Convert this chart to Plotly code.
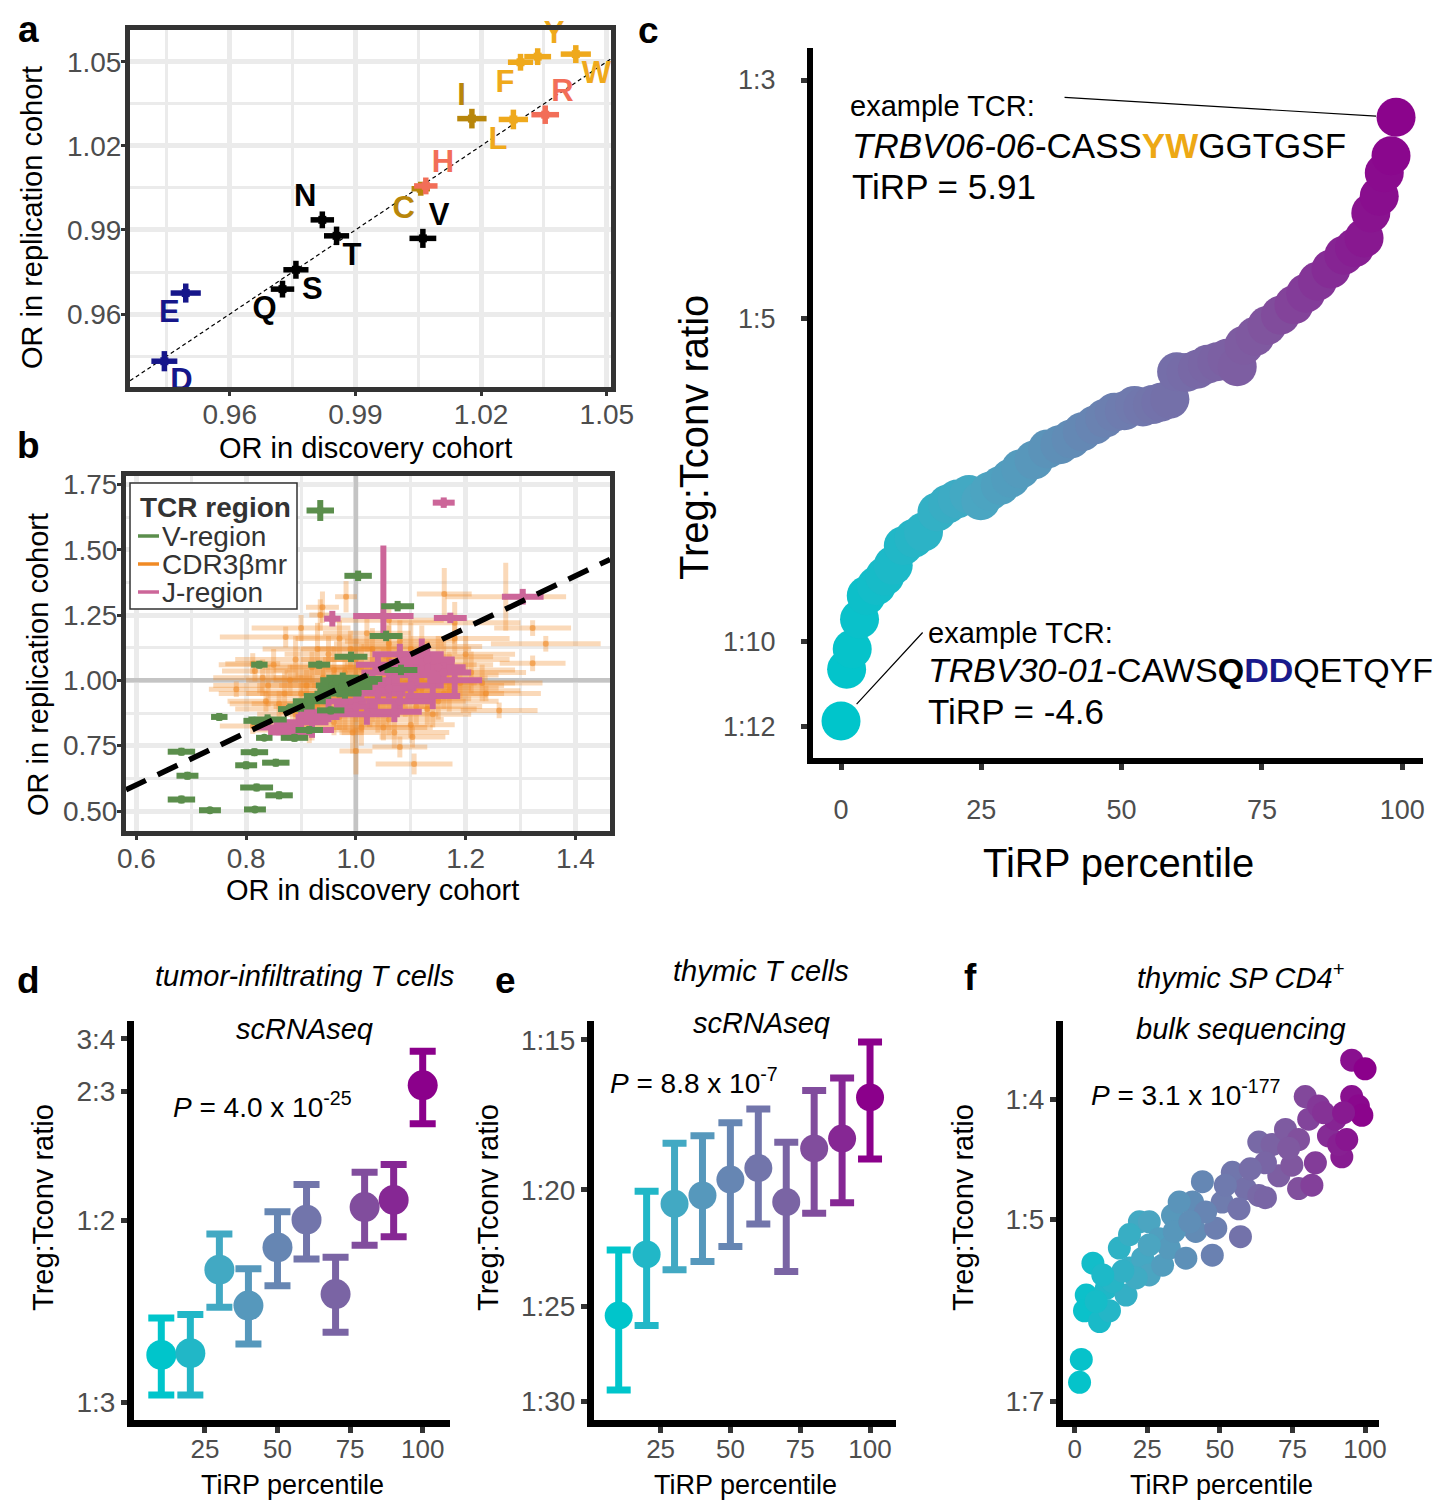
import numpy as np
import plotly.graph_objects as go
from plotly.colors import sample_colorscale

W, H = 1442, 1500
FONT = "Liberation Sans, Arial, Helvetica, sans-serif"
TICK_GREY = "#4D4D4D"
FRAME = "#333333"
GRID = "#EBEBEB"

# ---------------- Panel a data ----------------
AA_LABELS = ["D", "E", "Q", "S", "N", "T", "V", "C", "H", "I", "L", "R", "F", "Y", "W"]
AA_CLASS = ["acid", "acid", "k", "k", "k", "k", "k", "dgold", "salmon", "dgold", "gold", "salmon", "gold", "gold", "gold"]
A_DISC = [0.9444, 0.9495, 0.9726, 0.9758, 0.9821, 0.9855, 1.0061, 1.0056, 1.0068, 1.0178, 1.0277, 1.0353, 1.0294, 1.0335, 1.0426]
A_REPL = [0.9432, 0.9675, 0.9689, 0.9758, 0.9936, 0.9879, 0.9870, 1.0047, 1.0057, 1.0297, 1.0294, 1.0311, 1.0498, 1.0518, 1.0527]
A_ERRX = [0.0031, 0.0036, 0.0028, 0.0030, 0.0028, 0.0030, 0.0032, 0.0022, 0.0028, 0.0035, 0.0035, 0.0033, 0.0030, 0.0032, 0.0036]
A_ERRY = [0.0036, 0.0034, 0.0030, 0.0032, 0.0030, 0.0033, 0.0034, 0.0025, 0.0030, 0.0035, 0.0035, 0.0033, 0.0030, 0.0030, 0.0032]
A_TEXTPOS = ["bottom right", "bottom left", "bottom left", "bottom right", "top left", "bottom right",
             "top right", "bottom left", "top right", "top left", "bottom left", "top right",
             "bottom left", "top right", "bottom right"]
AA_COLORS = {"acid": "#16168A", "k": "#000000", "dgold": "#B8860B", "salmon": "#F26E58", "gold": "#EFA91C"}
A_XRANGE = [0.9362, 1.051]
A_YRANGE = [0.934, 1.0613]

# ---------------- Panel b data ----------------
B_V_X = [0.935, 1.004, 1.076, 1.055, 0.991, 0.933, 0.824, 1.082, 0.976, 1.018, 1.000, 0.985, 0.957, 0.970, 0.915,
         0.954, 0.878, 0.751, 0.839, 0.815, 0.915, 0.833, 0.888, 0.815, 0.854, 0.800, 0.682, 0.693, 0.819, 0.860,
         0.682, 0.734, 0.816, 0.965, 0.975, 0.990, 0.960, 1.000, 0.980, 0.930, 0.900]
B_V_Y = [1.650, 1.400, 1.284, 1.170, 1.090, 1.060, 1.060, 1.040, 1.010, 1.005, 0.995, 0.990, 0.980, 0.955, 0.920,
         0.885, 0.890, 0.860, 0.850, 0.845, 0.810, 0.780, 0.780, 0.725, 0.685, 0.675, 0.727, 0.635, 0.590, 0.560,
         0.544, 0.503, 0.506, 1.000, 0.975, 1.000, 0.965, 0.975, 0.950, 0.940, 0.900]
B_V_EX = [0.025, 0.025, 0.030, 0.030, 0.030, 0.020, 0.015, 0.030, 0.030, 0.030, 0.040, 0.030, 0.030, 0.040, 0.030,
          0.025, 0.020, 0.015, 0.035, 0.020, 0.025, 0.015, 0.025, 0.025, 0.025, 0.020, 0.025, 0.020, 0.030, 0.025,
          0.025, 0.020, 0.020, 0.030, 0.030, 0.030, 0.030, 0.030, 0.030, 0.025, 0.025]
B_V_EY = [0.040, 0.020, 0.020, 0.020, 0.020, 0.015, 0.015, 0.020, 0.020, 0.020, 0.020, 0.020, 0.020, 0.020, 0.020,
          0.015, 0.015, 0.015, 0.020, 0.015, 0.015, 0.010, 0.015, 0.015, 0.015, 0.015, 0.015, 0.015, 0.015, 0.015,
          0.015, 0.010, 0.010, 0.020, 0.020, 0.020, 0.020, 0.020, 0.020, 0.020, 0.020]

B_J_X = [1.160, 1.050, 0.957, 1.172, 1.304, 1.080, 1.120, 1.150, 1.060, 1.100, 1.040, 1.140, 1.080, 1.000, 0.950,
         1.020, 0.900, 0.860, 0.920, 1.180, 1.120, 1.030, 1.060, 1.090, 1.110, 1.130, 1.070, 1.040, 0.980, 1.160,
         1.010, 0.930, 0.880]
B_J_Y = [1.680, 1.246, 1.236, 1.239, 1.320, 1.100, 1.070, 1.050, 1.030, 0.980, 0.950, 0.940, 0.920, 0.900, 0.880,
         0.870, 0.840, 0.820, 0.810, 1.000, 1.100, 1.000, 0.970, 1.050, 1.020, 1.080, 0.880, 1.060, 0.920, 1.030,
         0.960, 0.860, 0.800]
B_J_EX = [0.020, 0.055, 0.015, 0.030, 0.038, 0.050, 0.060, 0.050, 0.050, 0.060, 0.050, 0.050, 0.060, 0.040, 0.050,
          0.060, 0.050, 0.040, 0.040, 0.050, 0.040, 0.050, 0.050, 0.060, 0.050, 0.050, 0.050, 0.040, 0.040, 0.050,
          0.050, 0.040, 0.040]
B_J_EY_UP = [0.020, 0.270, 0.030, 0.020, 0.030, 0.040, 0.040, 0.050, 0.040, 0.050, 0.040, 0.050, 0.040, 0.040, 0.040,
             0.040, 0.040, 0.030, 0.030, 0.050, 0.060, 0.040, 0.040, 0.040, 0.040, 0.050, 0.040, 0.040, 0.030, 0.040,
             0.040, 0.030, 0.030]
B_J_EY_DN = [0.020, 0.075, 0.030, 0.020, 0.030, 0.040, 0.040, 0.050, 0.040, 0.050, 0.040, 0.050, 0.040, 0.040, 0.040,
             0.040, 0.040, 0.030, 0.030, 0.050, 0.060, 0.040, 0.040, 0.040, 0.040, 0.050, 0.040, 0.040, 0.030, 0.040,
             0.040, 0.030, 0.030]

B_C_X = [1.273, 1.161, 1.106, 1.080, 1.000, 0.939, 0.982, 1.322, 1.322, 1.346, 1.237, 1.261, 1.140, 0.812, 0.836,
         0.872, 1.103, 0.915, 0.782, 0.816, 0.812, 0.935, 0.994, 1.180, 1.060, 0.900,
         0.88, 0.90, 0.92, 0.93, 0.95, 0.96, 0.97, 0.98, 0.99, 1.00, 1.01, 1.02, 1.03, 1.04, 1.05, 1.06, 1.07,
         1.08, 1.09, 1.10, 1.11, 1.12, 1.13, 1.14, 1.15, 1.16, 1.17, 1.19, 1.20, 0.86, 0.85, 0.89, 0.94, 0.97,
         1.00, 1.03, 1.05, 1.08, 1.12, 1.02, 0.96, 0.91, 1.10, 1.18, 0.99, 1.06, 1.13,
         0.87, 0.89, 0.91, 0.93, 0.94, 0.95, 0.96, 0.97, 0.98, 0.99, 1.00, 1.01, 1.02, 1.03, 1.04, 1.05, 1.06,
         1.07, 1.08, 1.09, 1.10, 1.11, 1.12, 1.13, 1.14, 1.15, 1.16, 1.17, 1.21, 1.23, 0.84, 0.83, 0.92, 1.01, 1.07]
B_C_Y = [1.320, 1.330, 0.680, 0.745, 0.730, 1.280, 1.320, 1.200, 1.065, 1.140, 0.950, 0.885, 0.870, 1.064, 0.920,
         1.166, 0.783, 0.810, 0.966, 1.036, 0.825, 1.250, 0.800, 1.220, 1.230, 1.200,
         1.00, 0.95, 1.05, 0.90, 1.10, 0.98, 0.86, 1.03, 0.93, 1.08, 0.88, 0.99, 1.12, 0.94, 1.05, 0.85, 1.00,
         1.15, 0.92, 1.06, 0.97, 1.13, 0.89, 1.02, 1.09, 0.95, 1.04, 0.99, 1.10, 0.91, 1.06, 0.87, 1.01, 1.16,
         0.97, 0.90, 0.82, 0.96, 1.01, 1.18, 0.84, 0.98, 0.83, 1.16, 1.12, 1.14, 0.94,
         0.95, 1.08, 0.89, 1.12, 0.96, 0.91, 1.04, 0.94, 0.88, 1.00, 0.92, 1.05, 0.95, 1.02, 0.87, 0.98, 1.08,
         0.93, 1.04, 0.99, 1.12, 0.90, 0.97, 1.06, 0.98, 0.92, 1.08, 0.96, 1.03, 0.99, 0.98, 1.01, 0.83, 0.82, 0.80]
B_C_EX = [0.11, 0.05, 0.07, 0.05, 0.03, 0.03, 0.02, 0.07, 0.06, 0.10, 0.10, 0.07, 0.07, 0.05, 0.07,
          0.12, 0.06, 0.10, 0.05, 0.06, 0.06, 0.02, 0.02, 0.12, 0.10, 0.09,
          0.08, 0.10, 0.09, 0.08, 0.08, 0.10, 0.09, 0.11, 0.08, 0.10, 0.09, 0.12, 0.10, 0.09, 0.11, 0.10, 0.12,
          0.10, 0.11, 0.12, 0.10, 0.11, 0.09, 0.12, 0.10, 0.11, 0.12, 0.10, 0.09, 0.09, 0.10, 0.07, 0.09, 0.08,
          0.10, 0.11, 0.09, 0.10, 0.12, 0.08, 0.10, 0.09, 0.08, 0.10, 0.09, 0.10, 0.11,
          0.12, 0.11, 0.13, 0.10, 0.12, 0.14, 0.11, 0.13, 0.12, 0.14, 0.11, 0.13, 0.12, 0.14, 0.11, 0.13, 0.12,
          0.14, 0.12, 0.13, 0.11, 0.12, 0.14, 0.12, 0.13, 0.11, 0.12, 0.13, 0.10, 0.11, 0.10, 0.09, 0.11, 0.12, 0.10]
B_C_EY = [0.13, 0.10, 0.04, 0.04, 0.09, 0.06, 0.06, 0.03, 0.03, 0.03, 0.03, 0.03, 0.05, 0.04, 0.04,
          0.04, 0.04, 0.05, 0.03, 0.04, 0.03, 0.06, 0.08, 0.08, 0.05, 0.05,
          0.06, 0.07, 0.06, 0.06, 0.07, 0.06, 0.05, 0.07, 0.06, 0.08, 0.06, 0.07, 0.08, 0.06, 0.07, 0.06, 0.07,
          0.08, 0.06, 0.07, 0.06, 0.08, 0.06, 0.07, 0.08, 0.06, 0.07, 0.06, 0.07, 0.05, 0.06, 0.05, 0.06, 0.07,
          0.06, 0.06, 0.05, 0.06, 0.07, 0.07, 0.05, 0.06, 0.05, 0.06, 0.07, 0.07, 0.06,
          0.08, 0.09, 0.07, 0.10, 0.08, 0.07, 0.09, 0.08, 0.07, 0.10, 0.08, 0.09, 0.08, 0.10, 0.07, 0.09, 0.10,
          0.08, 0.09, 0.08, 0.10, 0.07, 0.08, 0.09, 0.08, 0.07, 0.09, 0.08, 0.08, 0.07, 0.08, 0.07, 0.06, 0.07, 0.06]
B_XRANGE = [0.581, 1.463]
B_YRANGE = [0.4235, 1.782]
OR_NULL = 1.0

# ---------------- Panel c data ----------------
C_PCT = [0, 1.0, 2.0, 3.3, 4.5, 6.3, 7.8, 9.3, 11.1, 13.0, 14.7, 17.1, 19.0, 20.7, 22.8, 24.9, 26.5, 28.4,
         30.2, 32.0, 34.4, 36.8, 39.0, 41.0, 43.0, 45.2, 47.0, 48.7, 50.5, 52.3, 53.8, 55.5, 57.0, 58.6, 59.8,
         61.5, 63.5, 65.3, 67.0, 68.8, 70.6, 71.8, 73.8, 75.9, 78.3, 80.7, 82.8, 84.9, 87.3, 89.6, 91.5, 93.2,
         94.4, 95.9, 96.8, 98.0, 98.9]
C_TCONV_PER_TREG = [11.87, 10.62, 10.17, 9.54, 9.07, 8.88, 8.70, 8.50, 8.15, 8.02, 7.91, 7.58, 7.45, 7.37, 7.30,
                    7.40, 7.25, 7.16, 7.05, 6.91, 6.78, 6.62, 6.56, 6.48, 6.38, 6.29, 6.20, 6.12, 6.10, 6.03,
                    6.05, 6.02, 5.99, 5.95, 5.61, 5.62, 5.58, 5.52, 5.49, 5.45, 5.55, 5.30, 5.20, 5.08, 4.97,
                    4.86, 4.74, 4.62, 4.50, 4.37, 4.30, 4.21, 3.99, 3.85, 3.66, 3.53, 3.25]

# ---------------- Panel d data ----------------
D_PCT = [10, 20, 30, 40, 50, 60, 70, 80, 90, 100]
D_RATIO = [0.3704, 0.3719, 0.4480, 0.4136, 0.4709, 0.5010, 0.4243, 0.5152, 0.5235, 0.6761]
D_HI = [0.4022, 0.4055, 0.4853, 0.4491, 0.5100, 0.5419, 0.4607, 0.5568, 0.5666, 0.7294]
D_LO = [0.3387, 0.3387, 0.4120, 0.3795, 0.4322, 0.4588, 0.3896, 0.4731, 0.4822, 0.6206]

# ---------------- Panel e data ----------------
E_PCT = [10, 20, 30, 40, 50, 60, 70, 80, 90, 100]
E_RATIO = [0.03929, 0.04418, 0.04868, 0.04946, 0.05100, 0.05213, 0.04885, 0.05413, 0.05517, 0.05970]
E_HI = [0.04455, 0.04986, 0.05467, 0.05546, 0.05688, 0.05838, 0.05479, 0.06049, 0.06196, 0.06638]
E_LO = [0.03407, 0.03854, 0.04290, 0.04358, 0.04485, 0.04682, 0.04276, 0.04780, 0.04879, 0.05306]

# ---------------- Panel f data ----------------
F_PCT = [1.7, 2.3, 6.3, 4.0, 3.4, 8.6, 12.0, 10.9, 17.7, 15.4, 18.9, 22.3, 25.7, 23.4, 25.7, 30.3, 29.1, 32.6,
         33.7, 38.3, 41.7, 40.6, 44.0, 47.4, 48.6, 50.8, 54.3, 57.1, 58.8, 63.4, 65.7, 63.4, 68.0, 70.3, 72.6,
         74.8, 77.1, 79.4, 81.7, 80.6, 84.0, 82.9, 87.4, 89.7, 92.0, 90.9, 95.4, 97.7, 98.9, 95.4, 100.0, 77.1,
         65.7, 56.6, 60.5, 36.0, 34.3, 18.9, 13.1, 7.4, 21.2, 45.1, 51.9, 39.7, 25.7, 16.6, 9.7, 73.7, 85.7,
         92.6, 93.7]
F_TCONV_PER_TREG = [6.76, 6.48, 5.42, 5.75, 5.92, 6.04, 5.92, 5.68, 5.75, 5.27, 5.47, 5.02, 5.02, 5.37, 5.54,
                    5.44, 5.18, 5.27, 4.96, 5.37, 5.11, 4.84, 4.66, 5.34, 5.08, 4.84, 4.58, 5.16, 4.72, 4.78,
                    4.80, 4.33, 4.35, 4.61, 4.23, 4.52, 4.72, 3.98, 4.69, 4.15, 4.05, 4.50, 4.28, 4.15, 4.45,
                    4.35, 3.98, 4.05, 4.12, 3.72, 3.78, 4.31, 4.50, 4.90, 4.55, 4.84, 5.11, 5.14, 5.61, 5.82,
                    5.57, 4.93, 4.69, 5.02, 5.24, 5.50, 5.54, 4.38, 4.10, 4.10, 4.31]

CSCALE = [[0.0, "#00C5CB"], [0.25, "#4AA6C2"], [0.5, "#6E7DAF"], [0.75, "#80579F"], [1.0, "#8B008B"]]


def X(px):
    return px / W


def Y(py):
    return 1 - py / H


def grad(t):
    return sample_colorscale(CSCALE, [min(max(t, 0.0), 1.0)])[0]


fig = go.Figure()

# ---------------- Panel a traces ----------------
fig.add_trace(go.Scatter(x=A_XRANGE, y=A_XRANGE, mode="lines", xaxis="x", yaxis="y",
                         line=dict(color="black", width=1.2, dash="4px,3px"), showlegend=False, hoverinfo="skip"))
for i, lab in enumerate(AA_LABELS):
    col = AA_COLORS[AA_CLASS[i]]
    fig.add_trace(go.Scatter(
        x=[A_DISC[i]], y=[A_REPL[i]], mode="markers+text", xaxis="x", yaxis="y",
        text=["<b>%s</b>" % lab], textposition=A_TEXTPOS[i],
        textfont=dict(size=31, color=col, family=FONT), cliponaxis=False,
        marker=dict(size=8, color=col, symbol="square"),
        error_x=dict(type="data", array=[A_ERRX[i]], color=col, thickness=5.5, width=0),
        error_y=dict(type="data", array=[A_ERRY[i]], color=col, thickness=5.5, width=0),
        showlegend=False, hoverinfo="skip"))

# ---------------- Panel b traces ----------------
fig.add_trace(go.Scatter(x=[OR_NULL, OR_NULL], y=B_YRANGE, mode="lines", xaxis="x2", yaxis="y2",
                         line=dict(color="#C4C4C4", width=4.5), showlegend=False, hoverinfo="skip"))
fig.add_trace(go.Scatter(x=B_XRANGE, y=[OR_NULL, OR_NULL], mode="lines", xaxis="x2", yaxis="y2",
                         line=dict(color="#C4C4C4", width=4.5), showlegend=False, hoverinfo="skip"))
ORANGE_BAR = "rgba(240,138,36,0.32)"
ORANGE = "#F08A24"
PINK = "#CC6699"
GREEN = "#5B8E4C"
fig.add_trace(go.Scatter(
    x=B_C_X, y=B_C_Y, mode="markers", xaxis="x2", yaxis="y2",
    marker=dict(size=6, color="rgba(240,138,36,0.5)"),
    error_x=dict(type="data", array=B_C_EX, color=ORANGE_BAR, thickness=5, width=0),
    error_y=dict(type="data", array=B_C_EY, color=ORANGE_BAR, thickness=5, width=0),
    showlegend=False, hoverinfo="skip"))
fig.add_trace(go.Scatter(
    x=B_J_X, y=B_J_Y, mode="markers", xaxis="x2", yaxis="y2",
    marker=dict(size=8, color=PINK),
    error_x=dict(type="data", array=B_J_EX, color=PINK, thickness=6, width=0),
    error_y=dict(type="data", array=B_J_EY_UP, arrayminus=B_J_EY_DN, color=PINK, thickness=6, width=0),
    showlegend=False, hoverinfo="skip"))
fig.add_trace(go.Scatter(
    x=B_V_X, y=B_V_Y, mode="markers", xaxis="x2", yaxis="y2",
    marker=dict(size=8, color=GREEN),
    error_x=dict(type="data", array=B_V_EX, color=GREEN, thickness=6, width=0),
    error_y=dict(type="data", array=B_V_EY, color=GREEN, thickness=6, width=0),
    showlegend=False, hoverinfo="skip"))
fig.add_trace(go.Scatter(x=B_XRANGE, y=B_XRANGE, mode="lines", xaxis="x2", yaxis="y2",
                         line=dict(color="black", width=5.5, dash="22px,13px"), showlegend=False, hoverinfo="skip"))

# ---------------- Panel c traces ----------------
C_RATIO = [1.0 / v for v in C_TCONV_PER_TREG]
fig.add_trace(go.Scatter(
    x=C_PCT, y=C_RATIO, mode="markers", xaxis="x3", yaxis="y3",
    marker=dict(size=39, color=C_PCT, colorscale=CSCALE, cmin=0, cmax=100, line=dict(width=0)),
    showlegend=False, hoverinfo="skip"))

# ---------------- Panel d / e traces ----------------
for xs, ys, his, los, xa, ya, msize, cap in [(D_PCT, D_RATIO, D_HI, D_LO, "x4", "y4", 30, 13),
                                              (E_PCT, E_RATIO, E_HI, E_LO, "x5", "y5", 28, 12)]:
    for i in range(len(xs)):
        col = grad((xs[i] - xs[0]) / (xs[-1] - xs[0]))
        fig.add_trace(go.Scatter(
            x=[xs[i]], y=[ys[i]], mode="markers", xaxis=xa, yaxis=ya,
            marker=dict(size=msize, color=col),
            error_y=dict(type="data", array=[his[i] - ys[i]], arrayminus=[ys[i] - los[i]],
                         color=col, thickness=7, width=cap),
            showlegend=False, hoverinfo="skip"))

# ---------------- Panel f traces ----------------
F_RATIO = [1.0 / v for v in F_TCONV_PER_TREG]
fig.add_trace(go.Scatter(
    x=F_PCT, y=F_RATIO, mode="markers", xaxis="x6", yaxis="y6",
    marker=dict(size=23, color=F_PCT, colorscale=CSCALE, cmin=0, cmax=100, line=dict(width=0)),
    showlegend=False, hoverinfo="skip"))


# ---------------- Axes ----------------
def framed_axis(dom, rng, tickvals, fmt, minor_vals, anchor):
    return dict(domain=dom, range=rng, tickvals=tickvals, tickformat=fmt, anchor=anchor,
                showgrid=True, gridcolor=GRID, gridwidth=4.5,
                minor=dict(tickvals=minor_vals, showgrid=True, gridcolor=GRID, gridwidth=2.5, ticks=""),
                showline=True, mirror=True, linecolor=FRAME, linewidth=5,
                ticks="outside", ticklen=4, tickwidth=3, tickcolor=FRAME, zeroline=False,
                ticklabelstandoff=-6,
                tickfont=dict(size=28, color=TICK_GREY, family=FONT), automargin=False, fixedrange=True)


def bare_axis(dom, rng, tickvals, ticktext, anchor, ttype="linear", fsize=28, lw=6, standoff=0):
    return dict(domain=dom, range=rng, tickvals=tickvals, ticktext=ticktext, anchor=anchor, type=ttype,
                showgrid=False, zeroline=False, showline=True, linecolor="black", linewidth=lw,
                ticks="outside", ticklen=6, tickwidth=5, tickcolor=FRAME, ticklabelstandoff=standoff,
                tickfont=dict(size=fsize, color=TICK_GREY, family=FONT), automargin=False, fixedrange=True)


lay = {}
lay["xaxis"] = framed_axis([X(122), X(603)], A_XRANGE, [0.96, 0.99, 1.02, 1.05], ".2f",
                           [0.945, 0.975, 1.005, 1.035], "y")
lay["yaxis"] = framed_axis([Y(379), Y(22)], A_YRANGE, [0.96, 0.99, 1.02, 1.05], ".2f",
                           [0.945, 0.975, 1.005, 1.035], "x")
lay["xaxis2"] = framed_axis([X(118), X(602)], B_XRANGE, [0.6, 0.8, 1.0, 1.2, 1.4], ".1f",
                            [0.7, 0.9, 1.1, 1.3], "y2")
lay["yaxis2"] = framed_axis([Y(823), Y(468)], B_YRANGE, [0.5, 0.75, 1.0, 1.25, 1.5, 1.75], ".2f",
                            [0.625, 0.875, 1.125, 1.375, 1.625], "x2")

lay["xaxis3"] = bare_axis([X(805), X(1415)], [-4.99, 103.7], [0, 25, 50, 75, 100],
                          ["0", "25", "50", "75", "100"], "y3", fsize=27, standoff=17)
lay["yaxis3"] = bare_axis([Y(750), Y(40)], [-1.1089, -0.4473], [1 / 12, 1 / 10, 1 / 5, 1 / 3],
                          ["1:12", "1:10", "1:5", "1:3"], "x3", ttype="log", fsize=27, standoff=20)

PANEL_Y = [Y(1412), Y(1013)]
lay["xaxis4"] = bare_axis([X(126), X(442)], [0.6, 109.4], [25, 50, 75, 100], ["25", "50", "75", "100"],
                          "y4", lw=7, fsize=26, standoff=-6)
lay["yaxis4"] = bare_axis(PANEL_Y, [-0.4944, -0.1076], [1 / 3, 1 / 2, 2 / 3, 3 / 4],
                          ["1:3", "1:2", "2:3", "3:4"], "x4", ttype="log", lw=7)
lay["xaxis5"] = bare_axis([X(586), X(888)], [1.16, 109.3], [25, 50, 75, 100], ["25", "50", "75", "100"],
                          "y5", lw=7, fsize=26, standoff=-6)
lay["yaxis5"] = bare_axis(PANEL_Y, [-1.4927, -1.1604], [1 / 30, 1 / 25, 1 / 20, 1 / 15],
                          ["1:30", "1:25", "1:20", "1:15"], "x5", ttype="log", lw=7)
lay["xaxis6"] = bare_axis([X(1055), X(1371)], [-4.0, 104.8], [0, 25, 50, 75, 100],
                          ["0", "25", "50", "75", "100"], "y6", lw=7, fsize=26, standoff=-6)
lay["yaxis6"] = bare_axis(PANEL_Y, [-0.8603, -0.539], [1 / 7, 1 / 5, 1 / 4], ["1:7", "1:5", "1:4"],
                          "x6", ttype="log", lw=7)

fig.update_layout(**lay)

# ---------------- Annotations ----------------
ann = []
shapes = []


def txt(x, y, text, size, color="black", xanchor="center", yanchor="middle", angle=0):
    ann.append(dict(x=X(x), y=Y(y), xref="paper", yref="paper", text=text, showarrow=False,
                    xanchor=xanchor, yanchor=yanchor, textangle=angle,
                    font=dict(size=size, color=color, family=FONT)))


# panel letters
for lab, x, y in [("a", 20, 21), ("b", 20, 437), ("c", 640, 22), ("d", 20, 972), ("e", 497, 972), ("f", 962, 970)]:
    txt(x, y, "<b>%s</b>" % lab, 37)

# axis titles a, b
txt(357, 440, "OR in discovery cohort", 29)
txt(24, 210, "OR in replication cohort", 29, angle=-90)
txt(364, 882, "OR in discovery cohort", 29)
txt(30, 657, "OR in replication cohort", 29, angle=-90)

# manual legend for panel b
shapes.append(dict(type="rect", xref="paper", yref="paper", x0=X(122), x1=X(289), y0=Y(601), y1=Y(475),
                   line=dict(color=FRAME, width=1.5), fillcolor="white", layer="above"))
txt(130, 499, "<b>TCR region</b>", 28, color="#333333", xanchor="left")
for name, col, yy in [("V-region", GREEN, 528), ("CDR3βmr", ORANGE, 556), ("J-region", PINK, 584)]:
    shapes.append(dict(type="line", xref="paper", yref="paper", x0=X(130), x1=X(151), y0=Y(yy), y1=Y(yy),
                       line=dict(color=col, width=3.5), layer="above"))
    txt(152, yy, name, 28, color="#333333", xanchor="left")

# axis titles c
txt(1110, 855, "TiRP percentile", 40)
txt(686, 430, "Treg:Tconv ratio", 40, angle=-90)

# c callouts
txt(840, 98, "example TCR:", 29, xanchor="left")
txt(842, 137, "<i>TRBV06-06</i>-CASS<span style='color:#EDA814'><b>YW</b></span>GGTGSF", 35, xanchor="left")
txt(842, 178, "TiRP = 5.91", 35, xanchor="left")
txt(918, 625, "example TCR:", 29, xanchor="left")
txt(918, 662, "<i>TRBV30-01</i>-CAWS<b>Q</b><span style='color:#1A1A8C'><b>DD</b></span>QETQYF", 34,
    xanchor="left")
txt(918, 703, "TiRP = -4.6", 35, xanchor="left")

top_i = len(C_PCT) - 1
ann.append(dict(x=C_PCT[top_i], y=float(np.log10(C_RATIO[top_i])), xref="x3", yref="y3", text="",
                showarrow=True, arrowhead=0, arrowwidth=1.2, arrowcolor="black", ax=-333, ay=-20, standoff=20,
                font=dict(size=1)))
ann.append(dict(x=C_PCT[0], y=float(np.log10(C_RATIO[0])), xref="x3", yref="y3", text="",
                showarrow=True, arrowhead=0, arrowwidth=1.2, arrowcolor="black", ax=83, ay=-90, standoff=23,
                font=dict(size=1)))

# d, e, f titles
txt(296, 968, "<i>tumor-infiltrating T cells</i>", 29)
txt(296, 1021, "<i>scRNAseq</i>", 29)
txt(753, 963, "<i>thymic T cells</i>", 29)
txt(753, 1015, "<i>scRNAseq</i>", 29)
txt(1233, 968, "<i>thymic SP CD4<sup>+</sup></i>", 29)
txt(1233, 1021, "<i>bulk sequencing</i>", 29)

txt(163, 1097, "<i>P</i> = 4.0 x 10<sup>-25</sup>", 28, xanchor="left")
txt(600, 1073, "<i>P</i> = 8.8 x 10<sup>-7</sup>", 28, xanchor="left")
txt(1081, 1085, "<i>P</i> = 3.1 x 10<sup>-177</sup>", 28, xanchor="left")

for xc in [284, 737, 1213]:
    txt(xc, 1477, "TiRP percentile", 27)
for xc in [35, 480, 955]:
    txt(xc, 1200, "Treg:Tconv ratio", 29, angle=-90)

fig.update_layout(
    width=W, height=H, margin=dict(l=0, r=0, t=0, b=0, autoexpand=False),
    paper_bgcolor="white", plot_bgcolor="white",
    font=dict(family=FONT, color="black"),
    annotations=ann, shapes=shapes, showlegend=False,
)

fig.write_html("out.html")
